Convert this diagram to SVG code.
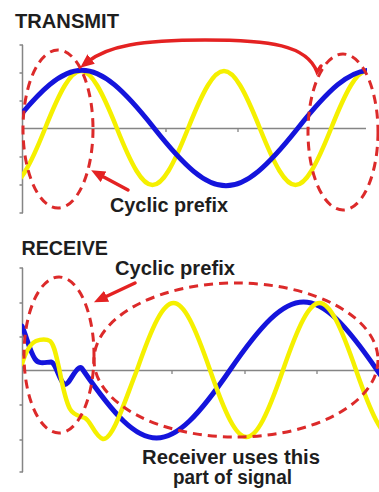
<svg xmlns="http://www.w3.org/2000/svg" width="379" height="492" viewBox="0 0 379 492">
<defs>
<style>
.axis{stroke:#858585;stroke-width:1.5;fill:none}
.tick{stroke:#858585;stroke-width:1.3;fill:none}
.blue{stroke:#1414dc;stroke-width:5;fill:none;stroke-linejoin:round;stroke-linecap:round}
.yellow{stroke:#f5f000;stroke-width:4.5;fill:none;stroke-linejoin:round;stroke-linecap:round}
.dash{stroke:#dc2a2a;stroke-width:3;fill:none;stroke-dasharray:9 6}
.arrow{stroke:#e42222;stroke-width:3.5;fill:none;stroke-linecap:round}
.label{font-family:"Liberation Sans",Arial,sans-serif;font-weight:bold;font-size:19.5px;fill:#1e1e1e}
</style>
<marker id="ah" markerUnits="userSpaceOnUse" markerWidth="16" markerHeight="14" refX="4" refY="6" orient="auto"><path d="M0 0 L14 6 L0 12 Z" fill="#e42222"/></marker>
<clipPath id="ct"><rect x="22" y="0" width="345" height="230"/></clipPath>
<clipPath id="cb"><rect x="22" y="240" width="357" height="250"/></clipPath>
</defs>
<rect width="379" height="492" fill="#ffffff"/>

<g id="transmit-title"><text class="label" x="15" y="27.5" textLength="104" lengthAdjust="spacingAndGlyphs">TRANSMIT</text></g>

<g id="transmit-axes">
<path class="axis" d="M22.5 45 V213 M22 128.5 H366"/>
<path class="tick" d="M19.5 45 H23 M19.5 73 H23 M19.5 101 H23 M19.5 157 H23 M19.5 185 H23 M19.5 213 H23 M93 128.5 V132 M166 128.5 V132 M238 128.5 V132"/>
</g>

<g id="transmit-signals" clip-path="url(#ct)">
<path class="yellow" d="M-26.25 128 C4.1 204, 14.9 204, 45.25 128 C75.6 52, 86.4 52, 116.75 128 C147.1 204, 157.9 204, 188.25 128 C218.6 52, 229.4 52, 259.75 128 C290.1 204, 300.9 204, 331.25 128 C361.6 52, 372.4 52, 402.75 128"/>
<path class="blue" d="M10 128 C71.1 51, 92.9 51, 154 128 C215.1 205, 236.9 205, 298 128 C359.1 51, 380.9 51, 442 128"/>
</g>

<g id="transmit-prefix-start"><ellipse class="dash" cx="58" cy="129" rx="35" ry="79"/></g>
<g id="transmit-prefix-end"><ellipse class="dash" cx="343" cy="132" rx="35" ry="78"/></g>

<g id="transmit-label"><text class="label" x="110" y="212" textLength="118" lengthAdjust="spacingAndGlyphs">Cyclic prefix</text></g>

<g id="receive-title"><text class="label" x="21.5" y="255" textLength="86.5" lengthAdjust="spacingAndGlyphs">RECEIVE</text></g>

<g id="receive-axes">
<path class="axis" d="M22.5 268 V472 M22 370.5 H378"/>
<path class="tick" d="M19.5 268 H23 M19.5 303 H23 M19.5 337 H23 M19.5 405 H23 M19.5 440 H23 M19.5 472 H23 M172 370.5 V374 M245 370.5 V374 M317 370.5 V374"/>
</g>

<g id="receive-signals" clip-path="url(#cb)">
<path class="blue" d="M22 326 C26 335, 30 352, 35 359 C39 365, 46 362, 51 362 C56 363, 59 380, 64 384 C68 387, 73 372, 79 368 C81 367, 82 368, 83 370 C145.4 460.7, 167.6 460.7, 230 370 C292.4 279.3, 314.6 279.3, 377 370 C439.4 460.7, 461.6 460.7, 524 370"/>
<path class="yellow" d="M22 364 C25 354, 29 344, 36 341 C41 339, 47 339, 50 341 C54 344, 56 355, 59 368 C62 383, 65 400, 70 409 C74 416, 80 416, 85 418 C91 421, 95 437, 103 439 C113 440, 125 400, 137 370 C168 280.7, 179 280.7, 210 370 C241 459.3, 252 459.3, 283 370 C314 280.7, 325 280.7, 356 370 C387 459.3, 398 459.3, 429 370"/>
</g>

<g id="receive-prefix"><ellipse class="dash" cx="59" cy="355" rx="35" ry="78"/></g>
<g id="receive-used-part"><ellipse class="dash" cx="236" cy="360" rx="142" ry="77"/></g>

<g id="receive-labels">
<text class="label" x="115" y="275" textLength="120" lengthAdjust="spacingAndGlyphs">Cyclic prefix</text>
<text class="label" x="142" y="464" textLength="178" lengthAdjust="spacingAndGlyphs">Receiver uses this</text>
<text class="label" x="173" y="484" textLength="119" lengthAdjust="spacingAndGlyphs">part of signal</text>
</g>

<g id="connectors">
<path class="arrow" d="M321 66 L317 72 C307 45, 270 40, 205 40 C140 40, 108 46, 88 61.5" marker-end="url(#ah)"/>
<path class="arrow" d="M128 190 L100 175" marker-end="url(#ah)"/>
<path class="arrow" d="M135 283 L103 298" marker-end="url(#ah)"/>
</g>
</svg>
